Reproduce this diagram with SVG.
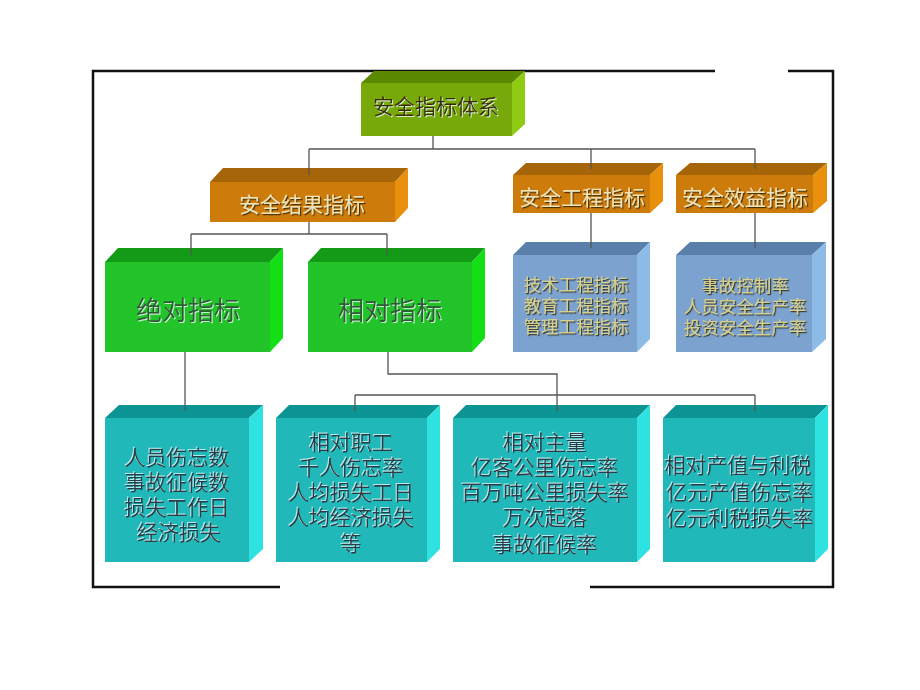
<svg xmlns="http://www.w3.org/2000/svg" width="920" height="690" viewBox="0 0 920 690">
<defs>
<filter id="shDark" x="-10%" y="-30%" width="120%" height="160%"><feDropShadow dx="1.2" dy="1.2" stdDeviation="0.6" flood-color="#2a1a00" flood-opacity="0.85"/></filter>
<filter id="shLight" x="-10%" y="-30%" width="120%" height="160%"><feDropShadow dx="1" dy="1" stdDeviation="0.5" flood-color="#e8fff0" flood-opacity="0.8"/></filter>
<filter id="shLight2" x="-10%" y="-30%" width="120%" height="160%"><feDropShadow dx="-1" dy="-1" stdDeviation="0.5" flood-color="#f0ffff" flood-opacity="0.7"/></filter>
</defs>
<style>
text{font-family:"Liberation Sans","Noto Sans CJK SC",sans-serif;text-anchor:middle;dominant-baseline:central}
.frame{fill:none;stroke:#111;stroke-width:2.5}
.conn path{fill:none;stroke:#555;stroke-width:1.3}
.olF{fill:#78a90a}.olT{fill:#5b8a02}.olR{fill:#8fcb12}
.orF{fill:#cd7b0b}.orT{fill:#a7650a}.orR{fill:#e8900c}
.grF{fill:#22c42a}.grT{fill:#139a16}.grR{fill:#12df14}
.blF{fill:#7ca2cf}.blT{fill:#5a7fab}.blR{fill:#8dbbe8}
.cyF{fill:#20b8b8}.cyT{fill:#0d9494}.cyR{fill:#2fe2e2}
.tOl{font-size:21px;fill:#3e2a06;filter:url(#shLight)}
.tOr{font-size:21px;fill:#efe2b4;filter:url(#shDark)}
.tGr{font-size:26px;fill:#2f5a36;filter:url(#shLight)}
.tBl{font-size:17.5px;fill:#d6d08e;filter:url(#shDark)}
.tCy{font-size:21px;fill:#2c3b48;filter:url(#shLight2)}
</style>

<g id="frame">
<path class="frame" d="M715,71 H93 V587 H280"/>
<path class="frame" d="M788,71 H833 V587 H590"/>
</g>

<g id="n-top">
<polygon class="olT" points="361,83 374,71 525,71 512,83"/>
<polygon class="olR" points="512,83 525,71 525,124 512,136"/>
<rect class="olF" x="361" y="83" width="151" height="53"/>
<text class="tOl" x="436" y="106">安全指标体系</text>
</g>

<g id="n-result">
<polygon class="orT" points="210,182 223,168 408,168 395,182"/>
<polygon class="orR" points="395,182 408,168 408,208 395,222"/>
<rect class="orF" x="210" y="182" width="185" height="40"/>
<text class="tOr" x="302" y="204">安全结果指标</text>
</g>

<g id="n-eng">
<polygon class="orT" points="513,175 526,163 663,163 650,175"/>
<polygon class="orR" points="650,175 663,163 663,201 650,213"/>
<rect class="orF" x="513" y="175" width="137" height="38"/>
<text class="tOr" x="582" y="197">安全工程指标</text>
</g>

<g id="n-benefit">
<polygon class="orT" points="676,175 690,163 827,163 813,175"/>
<polygon class="orR" points="813,175 827,163 827,201 813,213"/>
<rect class="orF" x="676" y="175" width="137" height="38"/>
<text class="tOr" x="745" y="197">安全效益指标</text>
</g>

<g id="n-abs">
<polygon class="grT" points="105,262 118,248 283,248 270,262"/>
<polygon class="grR" points="270,262 283,248 283,338 270,352"/>
<rect class="grF" x="105" y="262" width="165" height="90"/>
<text class="tGr" x="188" y="311">绝对指标</text>
</g>

<g id="n-rel">
<polygon class="grT" points="308,262 321,248 485,248 472,262"/>
<polygon class="grR" points="472,262 485,248 485,338 472,352"/>
<rect class="grF" x="308" y="262" width="164" height="90"/>
<text class="tGr" x="390" y="311">相对指标</text>
</g>

<g id="n-eng-list">
<polygon class="blT" points="513,255 526,242 650,242 637,255"/>
<polygon class="blR" points="637,255 650,242 650,339 637,352"/>
<rect class="blF" x="513" y="255" width="124" height="97"/>
<text class="tBl" x="576" y="285">技术工程指标</text>
<text class="tBl" x="576" y="306">教育工程指标</text>
<text class="tBl" x="576" y="327">管理工程指标</text>
</g>

<g id="n-benefit-list">
<polygon class="blT" points="676,255 690,242 826,242 812,255"/>
<polygon class="blR" points="812,255 826,242 826,339 812,352"/>
<rect class="blF" x="676" y="255" width="136" height="97"/>
<text class="tBl" x="745" y="286">事故控制率</text>
<text class="tBl" x="745" y="307">人员安全生产率</text>
<text class="tBl" x="745" y="328">投资安全生产率</text>
</g>

<g id="n-abs-list">
<polygon class="cyT" points="105,418 119,405 263,405 249,418"/>
<polygon class="cyR" points="249,418 263,405 263,549 249,562"/>
<rect class="cyF" x="105" y="418" width="144" height="144"/>
<text class="tCy" x="177" y="457">人员伤忘数</text>
<text class="tCy" x="177" y="482">事故征候数</text>
<text class="tCy" x="177" y="507">损失工作日</text>
<text class="tCy" x="179" y="532">经济损失</text>
</g>

<g id="n-staff">
<polygon class="cyT" points="276,418 289,405 440,405 427,418"/>
<polygon class="cyR" points="427,418 440,405 440,549 427,562"/>
<rect class="cyF" x="276" y="418" width="151" height="144"/>
<text class="tCy" x="351" y="442">相对职工</text>
<text class="tCy" x="351" y="467">千人伤忘率</text>
<text class="tCy" x="351" y="492">人均损失工日</text>
<text class="tCy" x="351" y="517">人均经济损失</text>
<text class="tCy" x="351" y="543">等</text>
</g>

<g id="n-volume">
<polygon class="cyT" points="453,418 466,405 650,405 637,418"/>
<polygon class="cyR" points="637,418 650,405 650,549 637,562"/>
<rect class="cyF" x="453" y="418" width="184" height="144"/>
<text class="tCy" x="545" y="442">相对主量</text>
<text class="tCy" x="545" y="467">亿客公里伤忘率</text>
<text class="tCy" x="545" y="492">百万吨公里损失率</text>
<text class="tCy" x="545" y="517">万次起落</text>
<text class="tCy" x="545" y="544">事故征候率</text>
</g>

<g id="n-output">
<polygon class="cyT" points="663,418 676,405 828,405 815,418"/>
<polygon class="cyR" points="815,418 828,405 828,549 815,562"/>
<rect class="cyF" x="663" y="418" width="152" height="144"/>
<text class="tCy" x="738" y="465">相对产值与利税</text>
<text class="tCy" x="740" y="492">亿元产值伤忘率</text>
<text class="tCy" x="740" y="518">亿元利税损失率</text>
</g>

<g id="connectors" class="conn">
<path d="M433,136 V149 M309,149 H755 M309,149 V175 M591,149 V169 M755,149 V169"/>
<path d="M309,222 V234 M191,234 H387 M191,234 V255 M387,234 V255"/>
<path d="M591,213 V248 M755,213 V248"/>
<path d="M185,352 V411"/>
<path d="M388,352 V374 H557 V411 M355,395 H755 M355,395 V411 M755,395 V411"/>
</g>
</svg>
